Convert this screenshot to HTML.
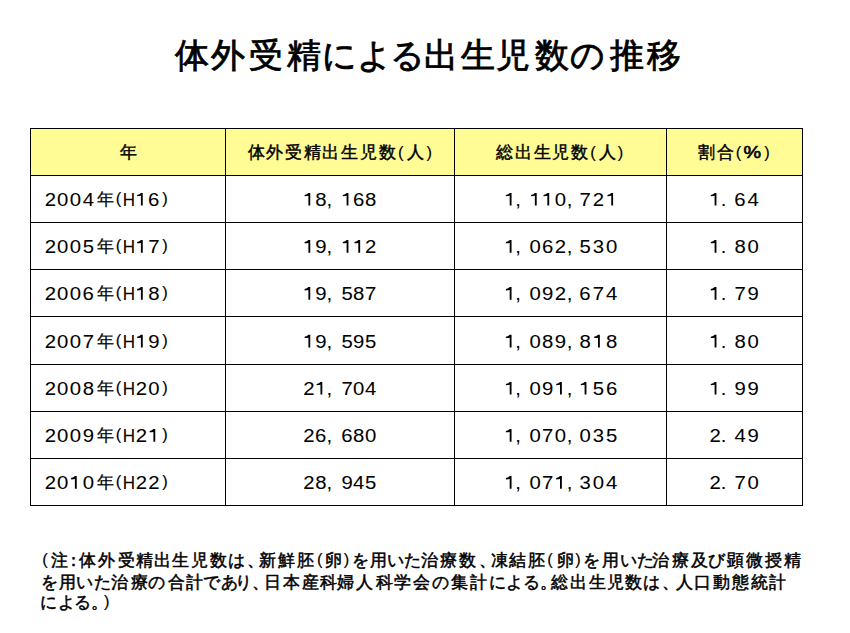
<!DOCTYPE html>
<html lang="ja"><head><meta charset="utf-8"><title>体外受精による出生児数の推移</title>
<style>
html,body{margin:0;padding:0;background:#fff;}
body{width:850px;height:633px;position:relative;overflow:hidden;}
svg{position:absolute;left:0;top:0;}
text{font-family:"Liberation Sans",sans-serif;fill:#000;stroke:#000;}
</style></head><body>
<svg width="850" height="633" viewBox="0 0 850 633">
<rect x="30" y="128" width="772" height="47" fill="#fffc96"/>
<rect x="30" y="128" width="773" height="1" fill="#000"/>
<rect x="30" y="175" width="773" height="1" fill="#000"/>
<rect x="30" y="222" width="773" height="1" fill="#000"/>
<rect x="30" y="269" width="773" height="1" fill="#000"/>
<rect x="30" y="316" width="773" height="1" fill="#000"/>
<rect x="30" y="364" width="773" height="1" fill="#000"/>
<rect x="30" y="411" width="773" height="1" fill="#000"/>
<rect x="30" y="458" width="773" height="1" fill="#000"/>
<rect x="30" y="505" width="773" height="1" fill="#000"/>
<rect x="30" y="128" width="1" height="378" fill="#000"/>
<rect x="225" y="128" width="1" height="378" fill="#000"/>
<rect x="454" y="128" width="1" height="378" fill="#000"/>
<rect x="666" y="128" width="1" height="378" fill="#000"/>
<rect x="802" y="128" width="1" height="378" fill="#000"/>
<text transform="translate(175.03,67.40)" style="font-size:33.5px;stroke-width:0.85px">体</text>
<text transform="translate(211.40,67.40)" style="font-size:33.5px;stroke-width:0.85px">外</text>
<text transform="translate(249.25,67.40)" style="font-size:33.5px;stroke-width:0.85px">受</text>
<text transform="translate(286.82,67.40)" style="font-size:33.5px;stroke-width:0.85px">精</text>
<text transform="translate(321.85,67.40)" style="font-size:33.5px;stroke-width:0.85px">に</text>
<text transform="translate(356.98,67.40)" style="font-size:33.5px;stroke-width:0.85px">よ</text>
<text transform="translate(389.85,67.40)" style="font-size:33.5px;stroke-width:0.85px">る</text>
<text transform="translate(423.80,67.40)" style="font-size:33.5px;stroke-width:0.85px">出</text>
<text transform="translate(460.90,67.40)" style="font-size:33.5px;stroke-width:0.85px">生</text>
<text transform="translate(496.23,67.40)" style="font-size:33.5px;stroke-width:0.85px">児</text>
<text transform="translate(535.40,67.40)" style="font-size:33.5px;stroke-width:0.85px">数</text>
<text transform="translate(569.70,67.40)" style="font-size:33.5px;stroke-width:0.85px">の</text>
<text transform="translate(610.02,67.40)" style="font-size:33.5px;stroke-width:0.85px">推</text>
<text transform="translate(647.33,67.40)" style="font-size:33.5px;stroke-width:0.85px">移</text>
<text transform="translate(120.12,158.00)" style="font-size:16.5px;stroke-width:0.45px">年</text>
<text transform="translate(247.50,158.00)" style="font-size:16.5px;stroke-width:0.45px">体</text>
<text transform="translate(266.23,158.00)" style="font-size:16.5px;stroke-width:0.45px">外</text>
<text transform="translate(285.05,158.00)" style="font-size:16.5px;stroke-width:0.45px">受</text>
<text transform="translate(303.80,158.00)" style="font-size:16.5px;stroke-width:0.45px">精</text>
<text transform="translate(322.45,158.00)" style="font-size:16.5px;stroke-width:0.45px">出</text>
<text transform="translate(340.82,158.00)" style="font-size:16.5px;stroke-width:0.45px">生</text>
<text transform="translate(360.00,158.00)" style="font-size:16.5px;stroke-width:0.45px">児</text>
<text transform="translate(378.50,158.00)" style="font-size:16.5px;stroke-width:0.45px">数</text>
<text transform="translate(397.90,157.50)" style="font-size:16.5px;stroke-width:0.15px">(</text>
<text transform="translate(407.27,158.00)" style="font-size:16.5px;stroke-width:0.45px">人</text>
<text transform="translate(426.40,157.50)" style="font-size:16.5px;stroke-width:0.15px">)</text>
<text transform="translate(496.30,158.00)" style="font-size:16.5px;stroke-width:0.45px">総</text>
<text transform="translate(515.40,158.00)" style="font-size:16.5px;stroke-width:0.45px">出</text>
<text transform="translate(533.62,158.00)" style="font-size:16.5px;stroke-width:0.45px">生</text>
<text transform="translate(552.10,158.00)" style="font-size:16.5px;stroke-width:0.45px">児</text>
<text transform="translate(570.70,158.00)" style="font-size:16.5px;stroke-width:0.45px">数</text>
<text transform="translate(590.35,157.50)" style="font-size:16.5px;stroke-width:0.15px">(</text>
<text transform="translate(599.12,158.00)" style="font-size:16.5px;stroke-width:0.45px">人</text>
<text transform="translate(617.75,157.50)" style="font-size:16.5px;stroke-width:0.15px">)</text>
<text transform="translate(698.23,158.00)" style="font-size:16.5px;stroke-width:0.45px">割</text>
<text transform="translate(716.70,158.00)" style="font-size:16.5px;stroke-width:0.45px">合</text>
<text transform="translate(735.85,157.50)" style="font-size:16.5px;stroke-width:0.15px">(</text>
<text transform="translate(743.50,158.00) scale(1.2,1.0)" style="font-size:16.5px;stroke-width:0.6px">%</text>
<text transform="translate(764.35,157.50)" style="font-size:16.5px;stroke-width:0.15px">)</text>
<text transform="translate(44.67,205.60) scale(1.13,1.0)" style="font-size:18px;stroke-width:0.05px">2</text>
<text transform="translate(56.98,205.60) scale(1.13,1.0)" style="font-size:18px;stroke-width:0.05px">0</text>
<text transform="translate(69.67,205.60) scale(1.13,1.0)" style="font-size:18px;stroke-width:0.05px">0</text>
<text transform="translate(82.67,205.60) scale(1.13,1.0)" style="font-size:18px;stroke-width:0.05px">4</text>
<text transform="translate(96.50,205.10)" style="font-size:16.5px;stroke-width:0.25px">年</text>
<text transform="translate(115.65,203.80)" style="font-size:16.5px;stroke-width:0.15px">(</text>
<text transform="translate(122.72,205.60) scale(0.95,1.0)" style="font-size:18px;stroke-width:0.05px">H</text>
<path transform="translate(141.80,205.60)" d="M-0.9 -12.7L0.95 -12.7L0.95 0L-0.9 0L-0.9 -9.8Q-2.3 -9.6 -4.7 -9.4L-4.7 -10.7Q-2 -11 -0.9 -12.7Z"/>
<text transform="translate(148.05,205.60) scale(1.13,1.0)" style="font-size:18px;stroke-width:0.05px">6</text>
<text transform="translate(162.30,203.80)" style="font-size:16.5px;stroke-width:0.15px">)</text>
<path transform="translate(309.30,205.60)" d="M-0.9 -12.7L0.95 -12.7L0.95 0L-0.9 0L-0.9 -9.8Q-2.3 -9.6 -4.7 -9.4L-4.7 -10.7Q-2 -11 -0.9 -12.7Z"/>
<text transform="translate(315.23,205.60) scale(1.13,1.0)" style="font-size:18px;stroke-width:0.05px">8</text>
<text transform="translate(326.45,205.60) scale(1.13,1.0)" style="font-size:18px;stroke-width:0.05px">,</text>
<path transform="translate(347.50,205.60)" d="M-0.9 -12.7L0.95 -12.7L0.95 0L-0.9 0L-0.9 -9.8Q-2.3 -9.6 -4.7 -9.4L-4.7 -10.7Q-2 -11 -0.9 -12.7Z"/>
<text transform="translate(352.95,205.60) scale(1.13,1.0)" style="font-size:18px;stroke-width:0.05px">6</text>
<text transform="translate(365.07,205.60) scale(1.13,1.0)" style="font-size:18px;stroke-width:0.05px">8</text>
<path transform="translate(510.60,205.60)" d="M-0.9 -12.7L0.95 -12.7L0.95 0L-0.9 0L-0.9 -9.8Q-2.3 -9.6 -4.7 -9.4L-4.7 -10.7Q-2 -11 -0.9 -12.7Z"/>
<text transform="translate(515.25,205.60) scale(1.13,1.0)" style="font-size:18px;stroke-width:0.05px">,</text>
<path transform="translate(535.75,205.60)" d="M-0.9 -12.7L0.95 -12.7L0.95 0L-0.9 0L-0.9 -9.8Q-2.3 -9.6 -4.7 -9.4L-4.7 -10.7Q-2 -11 -0.9 -12.7Z"/>
<path transform="translate(548.25,205.60)" d="M-0.9 -12.7L0.95 -12.7L0.95 0L-0.9 0L-0.9 -9.8Q-2.3 -9.6 -4.7 -9.4L-4.7 -10.7Q-2 -11 -0.9 -12.7Z"/>
<text transform="translate(554.77,205.60) scale(1.13,1.0)" style="font-size:18px;stroke-width:0.05px">0</text>
<text transform="translate(566.65,205.60) scale(1.13,1.0)" style="font-size:18px;stroke-width:0.05px">,</text>
<text transform="translate(579.38,205.60) scale(1.13,1.0)" style="font-size:18px;stroke-width:0.05px">7</text>
<text transform="translate(592.77,205.60) scale(1.13,1.0)" style="font-size:18px;stroke-width:0.05px">2</text>
<path transform="translate(612.15,205.60)" d="M-0.9 -12.7L0.95 -12.7L0.95 0L-0.9 0L-0.9 -9.8Q-2.3 -9.6 -4.7 -9.4L-4.7 -10.7Q-2 -11 -0.9 -12.7Z"/>
<path transform="translate(715.50,205.60)" d="M-0.9 -12.7L0.95 -12.7L0.95 0L-0.9 0L-0.9 -9.8Q-2.3 -9.6 -4.7 -9.4L-4.7 -10.7Q-2 -11 -0.9 -12.7Z"/>
<text transform="translate(720.85,205.60) scale(1.13,1.0)" style="font-size:18px;stroke-width:0.05px">.</text>
<text transform="translate(734.35,205.60) scale(1.13,1.0)" style="font-size:18px;stroke-width:0.05px">6</text>
<text transform="translate(747.38,205.60) scale(1.13,1.0)" style="font-size:18px;stroke-width:0.05px">4</text>
<text transform="translate(44.67,252.70) scale(1.13,1.0)" style="font-size:18px;stroke-width:0.05px">2</text>
<text transform="translate(56.98,252.70) scale(1.13,1.0)" style="font-size:18px;stroke-width:0.05px">0</text>
<text transform="translate(69.67,252.70) scale(1.13,1.0)" style="font-size:18px;stroke-width:0.05px">0</text>
<text transform="translate(82.67,252.70) scale(1.13,1.0)" style="font-size:18px;stroke-width:0.05px">5</text>
<text transform="translate(96.50,252.20)" style="font-size:16.5px;stroke-width:0.25px">年</text>
<text transform="translate(115.65,250.90)" style="font-size:16.5px;stroke-width:0.15px">(</text>
<text transform="translate(122.72,252.70) scale(0.95,1.0)" style="font-size:18px;stroke-width:0.05px">H</text>
<path transform="translate(141.80,252.70)" d="M-0.9 -12.7L0.95 -12.7L0.95 0L-0.9 0L-0.9 -9.8Q-2.3 -9.6 -4.7 -9.4L-4.7 -10.7Q-2 -11 -0.9 -12.7Z"/>
<text transform="translate(148.18,252.70) scale(1.13,1.0)" style="font-size:18px;stroke-width:0.05px">7</text>
<text transform="translate(162.30,250.90)" style="font-size:16.5px;stroke-width:0.15px">)</text>
<path transform="translate(309.30,252.70)" d="M-0.9 -12.7L0.95 -12.7L0.95 0L-0.9 0L-0.9 -9.8Q-2.3 -9.6 -4.7 -9.4L-4.7 -10.7Q-2 -11 -0.9 -12.7Z"/>
<text transform="translate(315.23,252.70) scale(1.13,1.0)" style="font-size:18px;stroke-width:0.05px">9</text>
<text transform="translate(326.45,252.70) scale(1.13,1.0)" style="font-size:18px;stroke-width:0.05px">,</text>
<path transform="translate(347.50,252.70)" d="M-0.9 -12.7L0.95 -12.7L0.95 0L-0.9 0L-0.9 -9.8Q-2.3 -9.6 -4.7 -9.4L-4.7 -10.7Q-2 -11 -0.9 -12.7Z"/>
<path transform="translate(359.20,252.70)" d="M-0.9 -12.7L0.95 -12.7L0.95 0L-0.9 0L-0.9 -9.8Q-2.3 -9.6 -4.7 -9.4L-4.7 -10.7Q-2 -11 -0.9 -12.7Z"/>
<text transform="translate(365.07,252.70) scale(1.13,1.0)" style="font-size:18px;stroke-width:0.05px">2</text>
<path transform="translate(510.60,252.70)" d="M-0.9 -12.7L0.95 -12.7L0.95 0L-0.9 0L-0.9 -9.8Q-2.3 -9.6 -4.7 -9.4L-4.7 -10.7Q-2 -11 -0.9 -12.7Z"/>
<text transform="translate(515.25,252.70) scale(1.13,1.0)" style="font-size:18px;stroke-width:0.05px">,</text>
<text transform="translate(529.62,252.70) scale(1.13,1.0)" style="font-size:18px;stroke-width:0.05px">0</text>
<text transform="translate(542.00,252.70) scale(1.13,1.0)" style="font-size:18px;stroke-width:0.05px">6</text>
<text transform="translate(554.77,252.70) scale(1.13,1.0)" style="font-size:18px;stroke-width:0.05px">2</text>
<text transform="translate(566.65,252.70) scale(1.13,1.0)" style="font-size:18px;stroke-width:0.05px">,</text>
<text transform="translate(579.38,252.70) scale(1.13,1.0)" style="font-size:18px;stroke-width:0.05px">5</text>
<text transform="translate(592.77,252.70) scale(1.13,1.0)" style="font-size:18px;stroke-width:0.05px">3</text>
<text transform="translate(606.02,252.70) scale(1.13,1.0)" style="font-size:18px;stroke-width:0.05px">0</text>
<path transform="translate(715.50,252.70)" d="M-0.9 -12.7L0.95 -12.7L0.95 0L-0.9 0L-0.9 -9.8Q-2.3 -9.6 -4.7 -9.4L-4.7 -10.7Q-2 -11 -0.9 -12.7Z"/>
<text transform="translate(720.85,252.70) scale(1.13,1.0)" style="font-size:18px;stroke-width:0.05px">.</text>
<text transform="translate(734.48,252.70) scale(1.13,1.0)" style="font-size:18px;stroke-width:0.05px">8</text>
<text transform="translate(747.38,252.70) scale(1.13,1.0)" style="font-size:18px;stroke-width:0.05px">0</text>
<text transform="translate(44.67,299.80) scale(1.13,1.0)" style="font-size:18px;stroke-width:0.05px">2</text>
<text transform="translate(56.98,299.80) scale(1.13,1.0)" style="font-size:18px;stroke-width:0.05px">0</text>
<text transform="translate(69.67,299.80) scale(1.13,1.0)" style="font-size:18px;stroke-width:0.05px">0</text>
<text transform="translate(82.55,299.80) scale(1.13,1.0)" style="font-size:18px;stroke-width:0.05px">6</text>
<text transform="translate(96.50,299.30)" style="font-size:16.5px;stroke-width:0.25px">年</text>
<text transform="translate(115.65,298.00)" style="font-size:16.5px;stroke-width:0.15px">(</text>
<text transform="translate(122.72,299.80) scale(0.95,1.0)" style="font-size:18px;stroke-width:0.05px">H</text>
<path transform="translate(141.80,299.80)" d="M-0.9 -12.7L0.95 -12.7L0.95 0L-0.9 0L-0.9 -9.8Q-2.3 -9.6 -4.7 -9.4L-4.7 -10.7Q-2 -11 -0.9 -12.7Z"/>
<text transform="translate(148.18,299.80) scale(1.13,1.0)" style="font-size:18px;stroke-width:0.05px">8</text>
<text transform="translate(162.30,298.00)" style="font-size:16.5px;stroke-width:0.15px">)</text>
<path transform="translate(309.30,299.80)" d="M-0.9 -12.7L0.95 -12.7L0.95 0L-0.9 0L-0.9 -9.8Q-2.3 -9.6 -4.7 -9.4L-4.7 -10.7Q-2 -11 -0.9 -12.7Z"/>
<text transform="translate(315.23,299.80) scale(1.13,1.0)" style="font-size:18px;stroke-width:0.05px">9</text>
<text transform="translate(326.45,299.80) scale(1.13,1.0)" style="font-size:18px;stroke-width:0.05px">,</text>
<text transform="translate(341.38,299.80) scale(1.13,1.0)" style="font-size:18px;stroke-width:0.05px">5</text>
<text transform="translate(353.07,299.80) scale(1.13,1.0)" style="font-size:18px;stroke-width:0.05px">8</text>
<text transform="translate(365.07,299.80) scale(1.13,1.0)" style="font-size:18px;stroke-width:0.05px">7</text>
<path transform="translate(510.60,299.80)" d="M-0.9 -12.7L0.95 -12.7L0.95 0L-0.9 0L-0.9 -9.8Q-2.3 -9.6 -4.7 -9.4L-4.7 -10.7Q-2 -11 -0.9 -12.7Z"/>
<text transform="translate(515.25,299.80) scale(1.13,1.0)" style="font-size:18px;stroke-width:0.05px">,</text>
<text transform="translate(529.62,299.80) scale(1.13,1.0)" style="font-size:18px;stroke-width:0.05px">0</text>
<text transform="translate(542.12,299.80) scale(1.13,1.0)" style="font-size:18px;stroke-width:0.05px">9</text>
<text transform="translate(554.77,299.80) scale(1.13,1.0)" style="font-size:18px;stroke-width:0.05px">2</text>
<text transform="translate(566.65,299.80) scale(1.13,1.0)" style="font-size:18px;stroke-width:0.05px">,</text>
<text transform="translate(579.25,299.80) scale(1.13,1.0)" style="font-size:18px;stroke-width:0.05px">6</text>
<text transform="translate(592.77,299.80) scale(1.13,1.0)" style="font-size:18px;stroke-width:0.05px">7</text>
<text transform="translate(606.02,299.80) scale(1.13,1.0)" style="font-size:18px;stroke-width:0.05px">4</text>
<path transform="translate(715.50,299.80)" d="M-0.9 -12.7L0.95 -12.7L0.95 0L-0.9 0L-0.9 -9.8Q-2.3 -9.6 -4.7 -9.4L-4.7 -10.7Q-2 -11 -0.9 -12.7Z"/>
<text transform="translate(720.85,299.80) scale(1.13,1.0)" style="font-size:18px;stroke-width:0.05px">.</text>
<text transform="translate(734.48,299.80) scale(1.13,1.0)" style="font-size:18px;stroke-width:0.05px">7</text>
<text transform="translate(747.38,299.80) scale(1.13,1.0)" style="font-size:18px;stroke-width:0.05px">9</text>
<text transform="translate(44.67,347.50) scale(1.13,1.0)" style="font-size:18px;stroke-width:0.05px">2</text>
<text transform="translate(56.98,347.50) scale(1.13,1.0)" style="font-size:18px;stroke-width:0.05px">0</text>
<text transform="translate(69.67,347.50) scale(1.13,1.0)" style="font-size:18px;stroke-width:0.05px">0</text>
<text transform="translate(82.67,347.50) scale(1.13,1.0)" style="font-size:18px;stroke-width:0.05px">7</text>
<text transform="translate(96.50,347.00)" style="font-size:16.5px;stroke-width:0.25px">年</text>
<text transform="translate(115.65,345.70)" style="font-size:16.5px;stroke-width:0.15px">(</text>
<text transform="translate(122.72,347.50) scale(0.95,1.0)" style="font-size:18px;stroke-width:0.05px">H</text>
<path transform="translate(141.80,347.50)" d="M-0.9 -12.7L0.95 -12.7L0.95 0L-0.9 0L-0.9 -9.8Q-2.3 -9.6 -4.7 -9.4L-4.7 -10.7Q-2 -11 -0.9 -12.7Z"/>
<text transform="translate(148.18,347.50) scale(1.13,1.0)" style="font-size:18px;stroke-width:0.05px">9</text>
<text transform="translate(162.30,345.70)" style="font-size:16.5px;stroke-width:0.15px">)</text>
<path transform="translate(309.30,347.50)" d="M-0.9 -12.7L0.95 -12.7L0.95 0L-0.9 0L-0.9 -9.8Q-2.3 -9.6 -4.7 -9.4L-4.7 -10.7Q-2 -11 -0.9 -12.7Z"/>
<text transform="translate(315.23,347.50) scale(1.13,1.0)" style="font-size:18px;stroke-width:0.05px">9</text>
<text transform="translate(326.45,347.50) scale(1.13,1.0)" style="font-size:18px;stroke-width:0.05px">,</text>
<text transform="translate(341.38,347.50) scale(1.13,1.0)" style="font-size:18px;stroke-width:0.05px">5</text>
<text transform="translate(353.07,347.50) scale(1.13,1.0)" style="font-size:18px;stroke-width:0.05px">9</text>
<text transform="translate(365.07,347.50) scale(1.13,1.0)" style="font-size:18px;stroke-width:0.05px">5</text>
<path transform="translate(510.60,347.50)" d="M-0.9 -12.7L0.95 -12.7L0.95 0L-0.9 0L-0.9 -9.8Q-2.3 -9.6 -4.7 -9.4L-4.7 -10.7Q-2 -11 -0.9 -12.7Z"/>
<text transform="translate(515.25,347.50) scale(1.13,1.0)" style="font-size:18px;stroke-width:0.05px">,</text>
<text transform="translate(529.62,347.50) scale(1.13,1.0)" style="font-size:18px;stroke-width:0.05px">0</text>
<text transform="translate(542.12,347.50) scale(1.13,1.0)" style="font-size:18px;stroke-width:0.05px">8</text>
<text transform="translate(554.77,347.50) scale(1.13,1.0)" style="font-size:18px;stroke-width:0.05px">9</text>
<text transform="translate(566.65,347.50) scale(1.13,1.0)" style="font-size:18px;stroke-width:0.05px">,</text>
<text transform="translate(579.38,347.50) scale(1.13,1.0)" style="font-size:18px;stroke-width:0.05px">8</text>
<path transform="translate(598.90,347.50)" d="M-0.9 -12.7L0.95 -12.7L0.95 0L-0.9 0L-0.9 -9.8Q-2.3 -9.6 -4.7 -9.4L-4.7 -10.7Q-2 -11 -0.9 -12.7Z"/>
<text transform="translate(606.02,347.50) scale(1.13,1.0)" style="font-size:18px;stroke-width:0.05px">8</text>
<path transform="translate(715.50,347.50)" d="M-0.9 -12.7L0.95 -12.7L0.95 0L-0.9 0L-0.9 -9.8Q-2.3 -9.6 -4.7 -9.4L-4.7 -10.7Q-2 -11 -0.9 -12.7Z"/>
<text transform="translate(720.85,347.50) scale(1.13,1.0)" style="font-size:18px;stroke-width:0.05px">.</text>
<text transform="translate(734.48,347.50) scale(1.13,1.0)" style="font-size:18px;stroke-width:0.05px">8</text>
<text transform="translate(747.38,347.50) scale(1.13,1.0)" style="font-size:18px;stroke-width:0.05px">0</text>
<text transform="translate(44.67,394.60) scale(1.13,1.0)" style="font-size:18px;stroke-width:0.05px">2</text>
<text transform="translate(56.98,394.60) scale(1.13,1.0)" style="font-size:18px;stroke-width:0.05px">0</text>
<text transform="translate(69.67,394.60) scale(1.13,1.0)" style="font-size:18px;stroke-width:0.05px">0</text>
<text transform="translate(82.67,394.60) scale(1.13,1.0)" style="font-size:18px;stroke-width:0.05px">8</text>
<text transform="translate(96.50,394.10)" style="font-size:16.5px;stroke-width:0.25px">年</text>
<text transform="translate(115.65,392.80)" style="font-size:16.5px;stroke-width:0.15px">(</text>
<text transform="translate(122.72,394.60) scale(0.95,1.0)" style="font-size:18px;stroke-width:0.05px">H</text>
<text transform="translate(135.68,394.60) scale(1.13,1.0)" style="font-size:18px;stroke-width:0.05px">2</text>
<text transform="translate(148.18,394.60) scale(1.13,1.0)" style="font-size:18px;stroke-width:0.05px">0</text>
<text transform="translate(162.30,392.80)" style="font-size:16.5px;stroke-width:0.15px">)</text>
<text transform="translate(303.18,394.60) scale(1.13,1.0)" style="font-size:18px;stroke-width:0.05px">2</text>
<path transform="translate(321.35,394.60)" d="M-0.9 -12.7L0.95 -12.7L0.95 0L-0.9 0L-0.9 -9.8Q-2.3 -9.6 -4.7 -9.4L-4.7 -10.7Q-2 -11 -0.9 -12.7Z"/>
<text transform="translate(326.45,394.60) scale(1.13,1.0)" style="font-size:18px;stroke-width:0.05px">,</text>
<text transform="translate(341.38,394.60) scale(1.13,1.0)" style="font-size:18px;stroke-width:0.05px">7</text>
<text transform="translate(353.07,394.60) scale(1.13,1.0)" style="font-size:18px;stroke-width:0.05px">0</text>
<text transform="translate(365.07,394.60) scale(1.13,1.0)" style="font-size:18px;stroke-width:0.05px">4</text>
<path transform="translate(510.60,394.60)" d="M-0.9 -12.7L0.95 -12.7L0.95 0L-0.9 0L-0.9 -9.8Q-2.3 -9.6 -4.7 -9.4L-4.7 -10.7Q-2 -11 -0.9 -12.7Z"/>
<text transform="translate(515.25,394.60) scale(1.13,1.0)" style="font-size:18px;stroke-width:0.05px">,</text>
<text transform="translate(529.62,394.60) scale(1.13,1.0)" style="font-size:18px;stroke-width:0.05px">0</text>
<text transform="translate(542.12,394.60) scale(1.13,1.0)" style="font-size:18px;stroke-width:0.05px">9</text>
<path transform="translate(560.90,394.60)" d="M-0.9 -12.7L0.95 -12.7L0.95 0L-0.9 0L-0.9 -9.8Q-2.3 -9.6 -4.7 -9.4L-4.7 -10.7Q-2 -11 -0.9 -12.7Z"/>
<text transform="translate(566.65,394.60) scale(1.13,1.0)" style="font-size:18px;stroke-width:0.05px">,</text>
<path transform="translate(585.50,394.60)" d="M-0.9 -12.7L0.95 -12.7L0.95 0L-0.9 0L-0.9 -9.8Q-2.3 -9.6 -4.7 -9.4L-4.7 -10.7Q-2 -11 -0.9 -12.7Z"/>
<text transform="translate(592.77,394.60) scale(1.13,1.0)" style="font-size:18px;stroke-width:0.05px">5</text>
<text transform="translate(605.90,394.60) scale(1.13,1.0)" style="font-size:18px;stroke-width:0.05px">6</text>
<path transform="translate(715.50,394.60)" d="M-0.9 -12.7L0.95 -12.7L0.95 0L-0.9 0L-0.9 -9.8Q-2.3 -9.6 -4.7 -9.4L-4.7 -10.7Q-2 -11 -0.9 -12.7Z"/>
<text transform="translate(720.85,394.60) scale(1.13,1.0)" style="font-size:18px;stroke-width:0.05px">.</text>
<text transform="translate(734.48,394.60) scale(1.13,1.0)" style="font-size:18px;stroke-width:0.05px">9</text>
<text transform="translate(747.38,394.60) scale(1.13,1.0)" style="font-size:18px;stroke-width:0.05px">9</text>
<text transform="translate(44.67,441.70) scale(1.13,1.0)" style="font-size:18px;stroke-width:0.05px">2</text>
<text transform="translate(56.98,441.70) scale(1.13,1.0)" style="font-size:18px;stroke-width:0.05px">0</text>
<text transform="translate(69.67,441.70) scale(1.13,1.0)" style="font-size:18px;stroke-width:0.05px">0</text>
<text transform="translate(82.67,441.70) scale(1.13,1.0)" style="font-size:18px;stroke-width:0.05px">9</text>
<text transform="translate(96.50,441.20)" style="font-size:16.5px;stroke-width:0.25px">年</text>
<text transform="translate(115.65,439.90)" style="font-size:16.5px;stroke-width:0.15px">(</text>
<text transform="translate(122.72,441.70) scale(0.95,1.0)" style="font-size:18px;stroke-width:0.05px">H</text>
<text transform="translate(135.68,441.70) scale(1.13,1.0)" style="font-size:18px;stroke-width:0.05px">2</text>
<path transform="translate(154.30,441.70)" d="M-0.9 -12.7L0.95 -12.7L0.95 0L-0.9 0L-0.9 -9.8Q-2.3 -9.6 -4.7 -9.4L-4.7 -10.7Q-2 -11 -0.9 -12.7Z"/>
<text transform="translate(162.30,439.90)" style="font-size:16.5px;stroke-width:0.15px">)</text>
<text transform="translate(303.18,441.70) scale(1.13,1.0)" style="font-size:18px;stroke-width:0.05px">2</text>
<text transform="translate(315.10,441.70) scale(1.13,1.0)" style="font-size:18px;stroke-width:0.05px">6</text>
<text transform="translate(326.45,441.70) scale(1.13,1.0)" style="font-size:18px;stroke-width:0.05px">,</text>
<text transform="translate(341.25,441.70) scale(1.13,1.0)" style="font-size:18px;stroke-width:0.05px">6</text>
<text transform="translate(353.07,441.70) scale(1.13,1.0)" style="font-size:18px;stroke-width:0.05px">8</text>
<text transform="translate(365.07,441.70) scale(1.13,1.0)" style="font-size:18px;stroke-width:0.05px">0</text>
<path transform="translate(510.60,441.70)" d="M-0.9 -12.7L0.95 -12.7L0.95 0L-0.9 0L-0.9 -9.8Q-2.3 -9.6 -4.7 -9.4L-4.7 -10.7Q-2 -11 -0.9 -12.7Z"/>
<text transform="translate(515.25,441.70) scale(1.13,1.0)" style="font-size:18px;stroke-width:0.05px">,</text>
<text transform="translate(529.62,441.70) scale(1.13,1.0)" style="font-size:18px;stroke-width:0.05px">0</text>
<text transform="translate(542.12,441.70) scale(1.13,1.0)" style="font-size:18px;stroke-width:0.05px">7</text>
<text transform="translate(554.77,441.70) scale(1.13,1.0)" style="font-size:18px;stroke-width:0.05px">0</text>
<text transform="translate(566.65,441.70) scale(1.13,1.0)" style="font-size:18px;stroke-width:0.05px">,</text>
<text transform="translate(579.38,441.70) scale(1.13,1.0)" style="font-size:18px;stroke-width:0.05px">0</text>
<text transform="translate(592.77,441.70) scale(1.13,1.0)" style="font-size:18px;stroke-width:0.05px">3</text>
<text transform="translate(606.02,441.70) scale(1.13,1.0)" style="font-size:18px;stroke-width:0.05px">5</text>
<text transform="translate(709.38,441.70) scale(1.13,1.0)" style="font-size:18px;stroke-width:0.05px">2</text>
<text transform="translate(720.85,441.70) scale(1.13,1.0)" style="font-size:18px;stroke-width:0.05px">.</text>
<text transform="translate(734.48,441.70) scale(1.13,1.0)" style="font-size:18px;stroke-width:0.05px">4</text>
<text transform="translate(747.38,441.70) scale(1.13,1.0)" style="font-size:18px;stroke-width:0.05px">9</text>
<text transform="translate(44.67,488.80) scale(1.13,1.0)" style="font-size:18px;stroke-width:0.05px">2</text>
<text transform="translate(56.98,488.80) scale(1.13,1.0)" style="font-size:18px;stroke-width:0.05px">0</text>
<path transform="translate(75.80,488.80)" d="M-0.9 -12.7L0.95 -12.7L0.95 0L-0.9 0L-0.9 -9.8Q-2.3 -9.6 -4.7 -9.4L-4.7 -10.7Q-2 -11 -0.9 -12.7Z"/>
<text transform="translate(82.67,488.80) scale(1.13,1.0)" style="font-size:18px;stroke-width:0.05px">0</text>
<text transform="translate(96.50,488.30)" style="font-size:16.5px;stroke-width:0.25px">年</text>
<text transform="translate(115.65,487.00)" style="font-size:16.5px;stroke-width:0.15px">(</text>
<text transform="translate(122.72,488.80) scale(0.95,1.0)" style="font-size:18px;stroke-width:0.05px">H</text>
<text transform="translate(135.68,488.80) scale(1.13,1.0)" style="font-size:18px;stroke-width:0.05px">2</text>
<text transform="translate(148.18,488.80) scale(1.13,1.0)" style="font-size:18px;stroke-width:0.05px">2</text>
<text transform="translate(162.30,487.00)" style="font-size:16.5px;stroke-width:0.15px">)</text>
<text transform="translate(303.18,488.80) scale(1.13,1.0)" style="font-size:18px;stroke-width:0.05px">2</text>
<text transform="translate(315.23,488.80) scale(1.13,1.0)" style="font-size:18px;stroke-width:0.05px">8</text>
<text transform="translate(326.45,488.80) scale(1.13,1.0)" style="font-size:18px;stroke-width:0.05px">,</text>
<text transform="translate(341.38,488.80) scale(1.13,1.0)" style="font-size:18px;stroke-width:0.05px">9</text>
<text transform="translate(353.07,488.80) scale(1.13,1.0)" style="font-size:18px;stroke-width:0.05px">4</text>
<text transform="translate(365.07,488.80) scale(1.13,1.0)" style="font-size:18px;stroke-width:0.05px">5</text>
<path transform="translate(510.60,488.80)" d="M-0.9 -12.7L0.95 -12.7L0.95 0L-0.9 0L-0.9 -9.8Q-2.3 -9.6 -4.7 -9.4L-4.7 -10.7Q-2 -11 -0.9 -12.7Z"/>
<text transform="translate(515.25,488.80) scale(1.13,1.0)" style="font-size:18px;stroke-width:0.05px">,</text>
<text transform="translate(529.62,488.80) scale(1.13,1.0)" style="font-size:18px;stroke-width:0.05px">0</text>
<text transform="translate(542.12,488.80) scale(1.13,1.0)" style="font-size:18px;stroke-width:0.05px">7</text>
<path transform="translate(560.90,488.80)" d="M-0.9 -12.7L0.95 -12.7L0.95 0L-0.9 0L-0.9 -9.8Q-2.3 -9.6 -4.7 -9.4L-4.7 -10.7Q-2 -11 -0.9 -12.7Z"/>
<text transform="translate(566.65,488.80) scale(1.13,1.0)" style="font-size:18px;stroke-width:0.05px">,</text>
<text transform="translate(579.38,488.80) scale(1.13,1.0)" style="font-size:18px;stroke-width:0.05px">3</text>
<text transform="translate(592.77,488.80) scale(1.13,1.0)" style="font-size:18px;stroke-width:0.05px">0</text>
<text transform="translate(606.02,488.80) scale(1.13,1.0)" style="font-size:18px;stroke-width:0.05px">4</text>
<text transform="translate(709.38,488.80) scale(1.13,1.0)" style="font-size:18px;stroke-width:0.05px">2</text>
<text transform="translate(720.85,488.80) scale(1.13,1.0)" style="font-size:18px;stroke-width:0.05px">.</text>
<text transform="translate(734.48,488.80) scale(1.13,1.0)" style="font-size:18px;stroke-width:0.05px">7</text>
<text transform="translate(747.38,488.80) scale(1.13,1.0)" style="font-size:18px;stroke-width:0.05px">0</text>
<text transform="translate(42.30,565.00)" style="font-size:16.5px;stroke-width:0.15px">(</text>
<text transform="translate(50.73,566.00)" style="font-size:16.5px;stroke-width:0.5px">注</text>
<text transform="translate(64.50,566.00)" style="font-size:16.5px;stroke-width:0.5px">：</text>
<text transform="translate(78.83,566.00)" style="font-size:16.5px;stroke-width:0.5px">体</text>
<text transform="translate(98.28,566.00)" style="font-size:16.5px;stroke-width:0.5px">外</text>
<text transform="translate(117.55,566.00)" style="font-size:16.5px;stroke-width:0.5px">受</text>
<text transform="translate(135.95,566.00)" style="font-size:16.5px;stroke-width:0.5px">精</text>
<text transform="translate(153.80,566.00)" style="font-size:16.5px;stroke-width:0.5px">出</text>
<text transform="translate(172.28,566.00)" style="font-size:16.5px;stroke-width:0.5px">生</text>
<text transform="translate(190.57,566.00)" style="font-size:16.5px;stroke-width:0.5px">児</text>
<text transform="translate(209.55,566.00)" style="font-size:16.5px;stroke-width:0.5px">数</text>
<text transform="translate(228.05,566.00)" style="font-size:16.5px;stroke-width:0.5px">は</text>
<text transform="translate(246.72,566.00)" style="font-size:16.5px;stroke-width:0.5px">、</text>
<text transform="translate(259.40,566.00)" style="font-size:16.5px;stroke-width:0.5px">新</text>
<text transform="translate(277.90,566.00)" style="font-size:16.5px;stroke-width:0.5px">鮮</text>
<text transform="translate(296.75,566.00)" style="font-size:16.5px;stroke-width:0.5px">胚</text>
<text transform="translate(316.95,565.00)" style="font-size:16.5px;stroke-width:0.15px">(</text>
<text transform="translate(324.83,566.00)" style="font-size:16.5px;stroke-width:0.5px">卵</text>
<text transform="translate(343.80,565.00)" style="font-size:16.5px;stroke-width:0.15px">)</text>
<text transform="translate(351.52,566.00)" style="font-size:16.5px;stroke-width:0.5px">を</text>
<text transform="translate(369.70,566.00)" style="font-size:16.5px;stroke-width:0.5px">用</text>
<text transform="translate(386.83,566.00)" style="font-size:16.5px;stroke-width:0.5px">い</text>
<text transform="translate(403.80,566.00)" style="font-size:16.5px;stroke-width:0.5px">た</text>
<text transform="translate(420.62,566.00)" style="font-size:16.5px;stroke-width:0.5px">治</text>
<text transform="translate(440.10,566.00)" style="font-size:16.5px;stroke-width:0.5px">療</text>
<text transform="translate(458.65,566.00)" style="font-size:16.5px;stroke-width:0.5px">数</text>
<text transform="translate(479.32,566.00)" style="font-size:16.5px;stroke-width:0.5px">、</text>
<text transform="translate(490.55,566.00)" style="font-size:16.5px;stroke-width:0.5px">凍</text>
<text transform="translate(509.08,566.00)" style="font-size:16.5px;stroke-width:0.5px">結</text>
<text transform="translate(528.35,566.00)" style="font-size:16.5px;stroke-width:0.5px">胚</text>
<text transform="translate(547.30,565.00)" style="font-size:16.5px;stroke-width:0.15px">(</text>
<text transform="translate(556.53,566.00)" style="font-size:16.5px;stroke-width:0.5px">卵</text>
<text transform="translate(575.15,565.00)" style="font-size:16.5px;stroke-width:0.15px">)</text>
<text transform="translate(582.62,566.00)" style="font-size:16.5px;stroke-width:0.5px">を</text>
<text transform="translate(601.90,566.00)" style="font-size:16.5px;stroke-width:0.5px">用</text>
<text transform="translate(620.22,566.00)" style="font-size:16.5px;stroke-width:0.5px">い</text>
<text transform="translate(636.60,566.00)" style="font-size:16.5px;stroke-width:0.5px">た</text>
<text transform="translate(652.23,566.00)" style="font-size:16.5px;stroke-width:0.5px">治</text>
<text transform="translate(672.40,566.00)" style="font-size:16.5px;stroke-width:0.5px">療</text>
<text transform="translate(691.25,566.00)" style="font-size:16.5px;stroke-width:0.5px">及</text>
<text transform="translate(708.00,566.00)" style="font-size:16.5px;stroke-width:0.5px">び</text>
<text transform="translate(726.65,566.00)" style="font-size:16.5px;stroke-width:0.5px">顕</text>
<text transform="translate(745.98,566.00)" style="font-size:16.5px;stroke-width:0.5px">微</text>
<text transform="translate(764.95,566.00)" style="font-size:16.5px;stroke-width:0.5px">授</text>
<text transform="translate(783.50,566.00)" style="font-size:16.5px;stroke-width:0.5px">精</text>
<text transform="translate(40.62,587.80)" style="font-size:16.5px;stroke-width:0.5px">を</text>
<text transform="translate(59.10,587.80)" style="font-size:16.5px;stroke-width:0.5px">用</text>
<text transform="translate(76.17,587.80)" style="font-size:16.5px;stroke-width:0.5px">い</text>
<text transform="translate(93.50,587.80)" style="font-size:16.5px;stroke-width:0.5px">た</text>
<text transform="translate(111.03,587.80)" style="font-size:16.5px;stroke-width:0.5px">治</text>
<text transform="translate(130.75,587.80)" style="font-size:16.5px;stroke-width:0.5px">療</text>
<text transform="translate(148.05,587.80)" style="font-size:16.5px;stroke-width:0.5px">の</text>
<text transform="translate(167.55,587.80)" style="font-size:16.5px;stroke-width:0.5px">合</text>
<text transform="translate(185.93,587.80)" style="font-size:16.5px;stroke-width:0.5px">計</text>
<text transform="translate(202.60,587.80)" style="font-size:16.5px;stroke-width:0.5px">で</text>
<text transform="translate(221.25,587.80)" style="font-size:16.5px;stroke-width:0.5px">あ</text>
<text transform="translate(235.12,587.80)" style="font-size:16.5px;stroke-width:0.5px">り</text>
<text transform="translate(251.68,587.80)" style="font-size:16.5px;stroke-width:0.5px">、</text>
<text transform="translate(263.70,587.80)" style="font-size:16.5px;stroke-width:0.5px">日</text>
<text transform="translate(282.55,587.80)" style="font-size:16.5px;stroke-width:0.5px">本</text>
<text transform="translate(302.00,587.80)" style="font-size:16.5px;stroke-width:0.5px">産</text>
<text transform="translate(320.00,587.80)" style="font-size:16.5px;stroke-width:0.5px">科</text>
<text transform="translate(336.93,587.80)" style="font-size:16.5px;stroke-width:0.5px">婦</text>
<text transform="translate(355.90,587.80)" style="font-size:16.5px;stroke-width:0.5px">人</text>
<text transform="translate(376.00,587.80)" style="font-size:16.5px;stroke-width:0.5px">科</text>
<text transform="translate(394.38,587.80)" style="font-size:16.5px;stroke-width:0.5px">学</text>
<text transform="translate(413.18,587.80)" style="font-size:16.5px;stroke-width:0.5px">会</text>
<text transform="translate(432.45,587.80)" style="font-size:16.5px;stroke-width:0.5px">の</text>
<text transform="translate(451.20,587.80)" style="font-size:16.5px;stroke-width:0.5px">集</text>
<text transform="translate(469.67,587.80)" style="font-size:16.5px;stroke-width:0.5px">計</text>
<text transform="translate(489.00,587.80)" style="font-size:16.5px;stroke-width:0.5px">に</text>
<text transform="translate(505.92,587.80)" style="font-size:16.5px;stroke-width:0.5px">よ</text>
<text transform="translate(523.10,587.80)" style="font-size:16.5px;stroke-width:0.5px">る</text>
<text transform="translate(540.20,587.80)" style="font-size:16.5px;stroke-width:0.5px">。</text>
<text transform="translate(550.55,587.80)" style="font-size:16.5px;stroke-width:0.5px">総</text>
<text transform="translate(569.90,587.80)" style="font-size:16.5px;stroke-width:0.5px">出</text>
<text transform="translate(588.97,587.80)" style="font-size:16.5px;stroke-width:0.5px">生</text>
<text transform="translate(607.38,587.80)" style="font-size:16.5px;stroke-width:0.5px">児</text>
<text transform="translate(624.65,587.80)" style="font-size:16.5px;stroke-width:0.5px">数</text>
<text transform="translate(643.10,587.80)" style="font-size:16.5px;stroke-width:0.5px">は</text>
<text transform="translate(661.58,587.80)" style="font-size:16.5px;stroke-width:0.5px">、</text>
<text transform="translate(675.65,587.80)" style="font-size:16.5px;stroke-width:0.5px">人</text>
<text transform="translate(693.95,587.80)" style="font-size:16.5px;stroke-width:0.5px">口</text>
<text transform="translate(712.58,587.80)" style="font-size:16.5px;stroke-width:0.5px">動</text>
<text transform="translate(732.02,587.80)" style="font-size:16.5px;stroke-width:0.5px">態</text>
<text transform="translate(750.62,587.80)" style="font-size:16.5px;stroke-width:0.5px">統</text>
<text transform="translate(769.17,587.80)" style="font-size:16.5px;stroke-width:0.5px">計</text>
<text transform="translate(40.40,608.00)" style="font-size:16.5px;stroke-width:0.5px">に</text>
<text transform="translate(57.78,608.00)" style="font-size:16.5px;stroke-width:0.5px">よ</text>
<text transform="translate(73.85,608.00)" style="font-size:16.5px;stroke-width:0.5px">る</text>
<text transform="translate(90.75,608.00)" style="font-size:16.5px;stroke-width:0.5px">。</text>
<text transform="translate(104.05,607.00)" style="font-size:16.5px;stroke-width:0.15px">)</text>
</svg></body></html>
